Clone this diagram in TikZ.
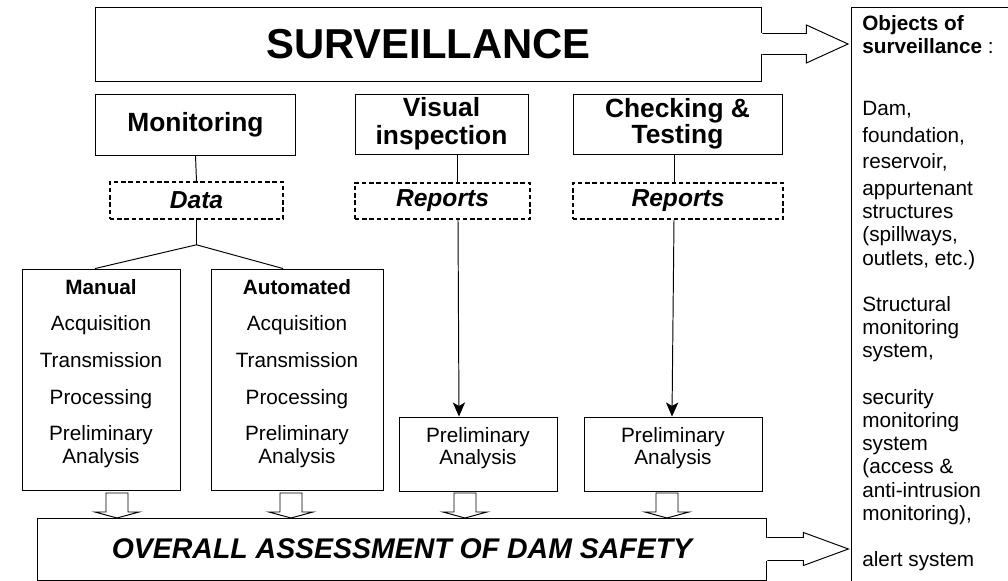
\documentclass[tikz,border=0pt]{standalone}
\usepackage{fontspec}
\setmainfont{Liberation Sans}
\usetikzlibrary{calc,arrows.meta}

\tikzset{
  box/.style={draw, line width=0.55pt, inner sep=0pt, align=center},
  headbox/.style={box, font=\bfseries\fontsize{15}{16}\selectfont},
  dashbox/.style={box, line width=0.9pt, dash pattern=on 2.5pt off 1.6pt,
    font=\bfseries\itshape\fontsize{14}{16}\selectfont},
  listbox/.style={box, font=\fontsize{11.8}{12.8}\selectfont},
  feed/.style={line width=0.55pt, -{Stealth[length=8pt,width=7pt,inset=2pt]}},
  hollow/.style={draw, line width=0.55pt, fill=white, line join=miter}
}

\begin{document}
\begin{tikzpicture}[x=0.02cm, y=-0.02cm]
  \useasboundingbox (0,0) rectangle (1008,581);

  % top level
  \node[box, minimum width=13.34cm, minimum height=1.48cm,
        font=\bfseries\fontsize{23.8}{26}\selectfont] (surv) at (428.5,44) {SURVEILLANCE};

  % the three activities
  \node[headbox, minimum width=4.02cm, minimum height=1.22cm] (mon) at (195.5,124.5) {Monitoring};
  \node[headbox, minimum width=3.46cm, minimum height=1.2cm] (vis) at (441.5,124) {Visual\\inspection};
  \node[headbox, minimum width=4.18cm, minimum height=1.2cm,
        font=\bfseries\fontsize{15}{11.3}\selectfont] (chk) at (677.5,124) {Checking \&\\Testing};

  % what they give
  \node[dashbox, minimum width=3.46cm, minimum height=0.74cm] (data) at (196.5,200.5) {Data};
  \node[dashbox, minimum width=3.5cm, minimum height=0.72cm] (rep1) at (442.5,201) {Reports};
  \node[dashbox, minimum width=4.2cm, minimum height=0.72cm] (rep2) at (678,201) {Reports};

  % data handling
  \node[listbox, minimum width=3.16cm, minimum height=4.44cm] (man) at (101,380)
    {\textbf{Manual}\\[8pt]Acquisition\\[8pt]Transmission\\[8pt]Processing\\[8pt]Preliminary\\Analysis\\[-2.8pt]\mbox{}};
  \node[listbox, minimum width=3.44cm, minimum height=4.44cm] (aut) at (297,380)
    {\textbf{Automated}\\[8pt]Acquisition\\[8pt]Transmission\\[8pt]Processing\\[8pt]Preliminary\\Analysis\\[-2.8pt]\mbox{}};
  \node[listbox, minimum width=3.16cm, minimum height=1.48cm] (pre1) at (478,454)
    {Preliminary\\Analysis\\[-3.8pt]\mbox{}};
  \node[listbox, minimum width=3.56cm, minimum height=1.48cm] (pre2) at (673,454)
    {Preliminary\\Analysis\\[-3.8pt]\mbox{}};

  \node[box, minimum width=14.6cm, minimum height=1.24cm,
        font=\bfseries\itshape\fontsize{16.2}{18}\selectfont] (overall) at (402,549) {OVERALL ASSESSMENT OF DAM SAFETY};

  % objects column, runs off the page
  \node[anchor=north west, inner xsep=0.22cm, inner ysep=0.16cm, align=left,
        font=\fontsize{11.8}{13.2}\selectfont] (obj) at (851,7)
    {\textbf{Objects of}\\
     \textbf{surveillance} :\\[22pt]
     Dam,\\[2pt]
     foundation,\\[2pt]
     reservoir,\\[2pt]
     appurtenant\\structures\\(spillways,\\outlets, etc.)\\[13.2pt]
     Structural\\monitoring\\system,\\[13.2pt]
     security\\monitoring\\system\\(access \&\\anti-intrusion\\monitoring),\\[13.2pt]
     alert system};
  \draw[line width=0.55pt] (1008,7) -- (obj.north west) -- (obj.north west |- 0,581);

  % plain links
  \draw[line width=0.55pt] (mon.south) -- (data.north);
  \draw[line width=0.55pt] ($(vis.south)+(16,0)$) -- ($(rep1.north)+(15,0)$);
  \draw[line width=0.55pt] ($(chk.south)+(-3.5,0)$) -- ($(rep2.north)+(-4,0)$);
  \coordinate (fork) at ($(data.south)+(0,25)$);
  \draw[line width=0.55pt] (data.south) -- (fork);
  \draw[line width=0.55pt] (fork) -- ($(man.north)+(-6,0)$);
  \draw[line width=0.55pt] (fork) -- ($(aut.north)+(-14,0)$);
  \draw[feed] ($(rep1.south)+(15.5,0)$) -- ($(pre1.north)+(-19,0)$);
  \draw[feed] ($(rep2.south)+(-4,0)$) -- ($(pre2.north)+(-1,0)$);

  % hollow arrows down into the assessment
  \foreach \x in {117,291,465,667}
    \draw[hollow] (\x-11,493) -- (\x-11,512) -- (\x-22,512) -- (\x,518)
                  -- (\x+22,512) -- (\x+11,512) -- (\x+11,493) -- cycle;

  % hollow arrows out to the objects
  \fill[white] ($(surv.east)+(-1,-10.5)$) rectangle ($(surv.east)+(1,10.5)$);
  \draw[hollow, fill=none] ($(surv.east)+(0,-10.5)$) -- ++(44,0) -- ++(0,-8.5)
    -- ($(obj.north west)+(-3,37)$) -- ($(surv.east)+(44,19)$) -- ++(0,-8.5) -- ++(-44,0);
  \fill[white] ($(overall.east)+(-1,-11.5)$) rectangle ($(overall.east)+(1,11.5)$);
  \draw[hollow, fill=none] ($(overall.east)+(0,-11.5)$) -- ++(36,0) -- ++(0,-5)
    -- ($(overall.east)+(81,0)$) -- ($(overall.east)+(36,16.5)$) -- ++(0,-5) -- ++(-36,0);
\end{tikzpicture}
\end{document}
